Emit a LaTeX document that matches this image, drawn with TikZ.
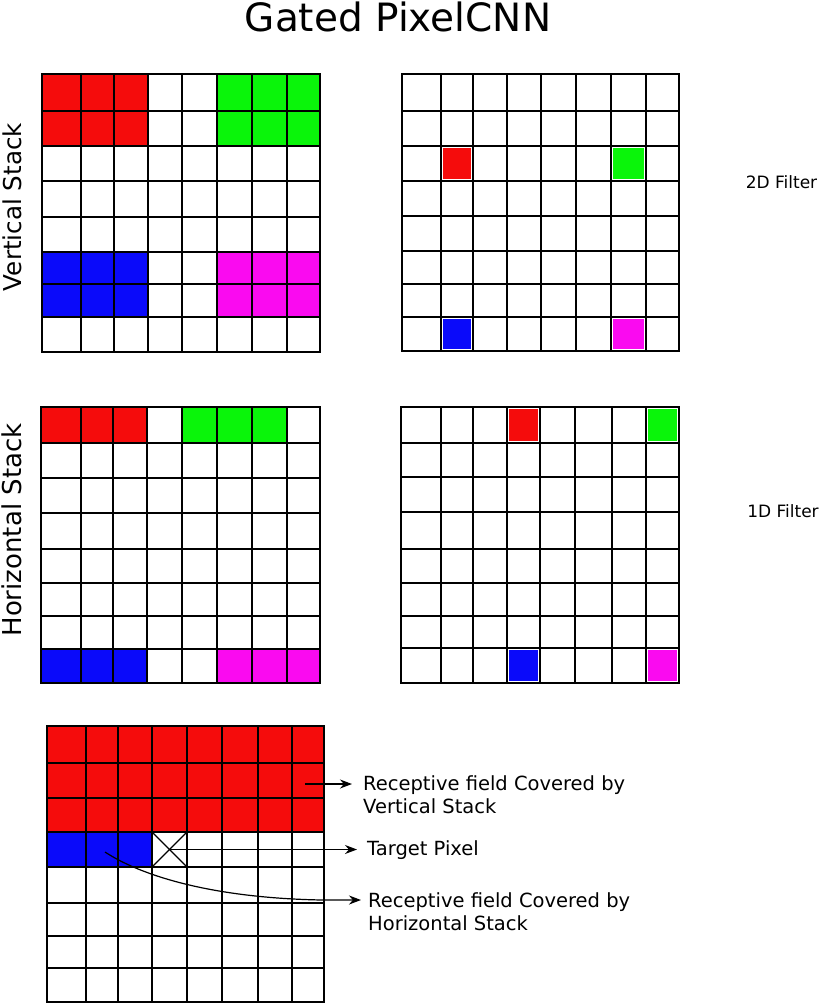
\documentclass[tikz,border=0pt]{standalone}
\usepackage{fontspec}
\setmainfont{DejaVu Sans}
\usetikzlibrary{arrows.meta}
\tikzset{
  gridline/.style={line width=2.4pt, line cap=rect},
  thinline/.style={line width=1.1pt},
  arrowline/.style={line width=1.2pt, -{Stealth[length=12pt,width=9pt]}},
  cellR/.style={fill={rgb,255:red,245;green,12;blue,12}},
  cellG/.style={fill={rgb,255:red,10;green,245;blue,10}},
  cellB/.style={fill={rgb,255:red,10;green,10;blue,250}},
  cellM/.style={fill={rgb,255:red,250;green,10;blue,240}},
  onecell/.style={draw=white, line width=0.8pt},
  lbl/.style={inner sep=0pt, font=\fontsize{19.5}{23}\selectfont, anchor=base west},
}
% \pixgrid{x0}{x1}{y0}{y1}{inner xs}{inner ys}
\newcommand\pixgrid[6]{%
  \foreach \gx in {#5} {\draw[gridline] (\gx,#3) -- (\gx,#4);}
  \foreach \gy in {#6} {\draw[gridline] (#1,\gy) -- (#2,\gy);}
  \draw[gridline] (#1,#3) rectangle (#2,#4);
}
\begin{document}
\begin{tikzpicture}[x=1pt,y=-1pt]
\useasboundingbox[fill=white] (0,0) rectangle (830,1004);

% title
\node[inner sep=0pt, anchor=base, font=\fontsize{39}{44}\selectfont] (title) at (398,31) {Gated PixelCNN};

% side labels
\node[inner sep=0pt, anchor=base, rotate=90, font=\fontsize{24.6}{28}\selectfont] (vlabel) at (21.5,207) {Vertical Stack};
\node[inner sep=0pt, anchor=base, rotate=90, font=\fontsize{26}{30}\selectfont] (hlabel) at (21.5,530) {Horizontal Stack};
\node[inner sep=0pt, anchor=base, font=\fontsize{17}{20}\selectfont] (f2d) at (781.5,188) {2D Filter};
\node[inner sep=0pt, anchor=base, font=\fontsize{17}{20}\selectfont] (f1d) at (783,517) {1D Filter};

% ---- grid 1: vertical stack, 2D filter receptive blocks
\fill[cellR] (42,74) rectangle (148,146);
\fill[cellG] (217,74) rectangle (320,146);
\fill[cellB] (42,252) rectangle (148,317);
\fill[cellM] (217,252) rectangle (320,317);
\pixgrid{42}{320}{74}{352}{81,114,148,182,217,252,287}{111,146,181,217,252,284,317}

% ---- grid 2: 2D filter taps
\pixgrid{402}{679}{74}{351}{441,473,507,541,576,611,646}{111,146,181,216,251,284,317}
\filldraw[cellR,onecell] (442.5,147.5) rectangle (471.5,179.5);
\filldraw[cellG,onecell] (612.5,147.5) rectangle (644.5,179.5);
\filldraw[cellB,onecell] (442.5,318.5) rectangle (471.5,349.5);
\filldraw[cellM,onecell] (612.5,318.5) rectangle (644.5,349.5);

% ---- grid 3: horizontal stack
\fill[cellR] (41,407) rectangle (147,443);
\fill[cellG] (182,407) rectangle (287,443);
\fill[cellB] (41,649) rectangle (147,683);
\fill[cellM] (217,649) rectangle (320,683);
\pixgrid{41}{320}{407}{683}{81,113,147,182,217,252,287}{443,478,513,549,583,616,649}

% ---- grid 4: 1D filter taps
\pixgrid{401}{679}{407}{683}{441,473,507,540,575,612,646}{443,477,512,549,583,616,648}
\filldraw[cellR,onecell] (508.5,408.5) rectangle (538.5,441.5);
\filldraw[cellG,onecell] (647.5,408.5) rectangle (677.5,441.5);
\filldraw[cellB,onecell] (508.5,649.5) rectangle (538.5,681.5);
\filldraw[cellM,onecell] (647.5,649.5) rectangle (677.5,681.5);

% ---- grid 5: combined receptive field
\fill[cellR] (47,726) rectangle (324,832);
\fill[cellB] (47,832) rectangle (152,867);
\pixgrid{47}{324}{726}{1002}{86,118,152,187,222,258,292}{763,798,832,867,903,936,968}
\fill[white] (153.5,833.5) rectangle (185.8,865.5);
\draw[thinline] (152,832) rectangle (187,867);
\draw[thinline] (152,832) -- (187,867);
\draw[thinline] (187,832) -- (152,867);
\coordinate (target) at (169.5,849.5);

% labels of grid 5
\node[lbl] (rv1) at (363,790) {Receptive field Covered by};
\node[lbl] (rv2) at (363,813) {Vertical Stack};
\node[lbl] (tp) at (367,855) {Target Pixel};
\node[lbl] (rh1) at (368,907) {Receptive field Covered by};
\node[lbl] (rh2) at (368,930) {Horizontal Stack};

\coordinate (vsrc) at (305,784);
\coordinate (vtip) at (352,784);
\coordinate (ttip) at (357,849.5);
\coordinate (hsrc) at (105,852);
\coordinate (hmid) at (322,900);
\coordinate (htip) at (361,900);

\draw[arrowline] (vsrc) -- (vtip);
\draw[arrowline] (target) -- (ttip);
\draw[arrowline] (hsrc) .. controls (140,875) and (210,898) .. (hmid) -- (htip);
\end{tikzpicture}
\end{document}
